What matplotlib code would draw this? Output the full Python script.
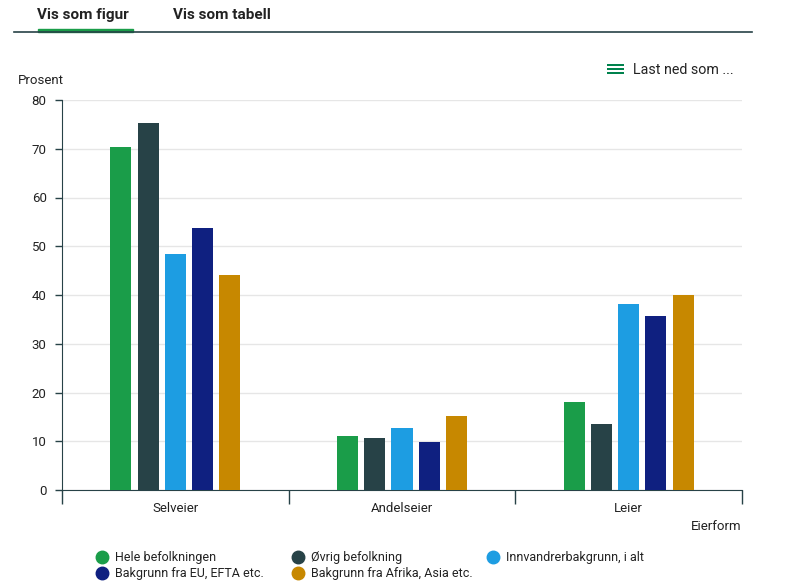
import numpy as np
import matplotlib.pyplot as plt
from matplotlib.patches import Rectangle

plt.rcParams['font.family'] = ['Roboto', 'DejaVu Sans']

# data
kategorier = ['Selveier', 'Andelseier', 'Leier']
serier = ['Hele befolkningen', 'Øvrig befolkning', 'Innvandrerbakgrunn, i alt',
          'Bakgrunn fra EU, EFTA etc.', 'Bakgrunn fra Afrika, Asia etc.']
verdier = [
    [70.4, 11.1, 18.1],
    [75.3, 10.7, 13.5],
    [48.4, 12.7, 38.2],
    [53.7, 9.8, 35.7],
    [44.1, 15.2, 40.0],
]
farger = ['#1a9d49', '#274247', '#1d9de2', '#0f2080', '#c78800']

W, H = 793, 588
fig = plt.figure(figsize=(W / 100, H / 100), dpi=100)
ax = fig.add_axes([62 / W, 1 - 490 / H, 680 / W, 390 / H])

x = np.arange(len(kategorier))
bredde = 0.093
steg = 0.12
for i, (navn, v) in enumerate(zip(serier, verdier)):
    ax.bar(x + (i - 2) * steg, v, width=bredde, color=farger[i], zorder=3)

ax.set_xlim(-0.5, 2.5)
ax.set_ylim(0, 80)
ax.set_yticks(range(0, 81, 10))
ax.grid(axis='y', color='#e6e6e6', linewidth=1, zorder=0)
ax.set_xticks([-0.5, 0.5, 1.5, 2.5])
ax.set_xticklabels([])
ax.set_xticks(x, minor=True)
ax.set_xticklabels(kategorier, minor=True)
ax.tick_params(axis='x', which='major', length=10, width=1, color='#274247')
ax.tick_params(axis='x', which='minor', length=0, pad=9, labelsize=9.5, labelcolor='#222222')
ax.tick_params(axis='y', length=5, width=1, color='#274247', labelsize=9.5, labelcolor='#222222', pad=6)
for s in ['top', 'right']:
    ax.spines[s].set_visible(False)
ax.spines['left'].set_color('#274247')
ax.spines['bottom'].set_color('#274247')

def fx(px):
    return px / W

def fy(py):
    return 1 - py / H

fig.text(fx(18), fy(80), 'Prosent', fontsize=9.5, color='#222222', va='center')
fig.text(fx(742), fy(526), 'Eierform', fontsize=9.5, color='#222222', va='center', ha='right')

# fanene oppe
fig.text(fx(37), fy(15), 'Vis som figur', fontsize=11, fontweight='bold', color='#222222', va='center')
fig.text(fx(173), fy(15), 'Vis som tabell', fontsize=11, fontweight='bold', color='#222222', va='center')
fig.add_artist(Rectangle((fx(38), fy(32)), fx(133) - fx(38), 3 / H, color='#1a9d49', transform=fig.transFigure))
fig.add_artist(plt.Line2D([fx(14), fx(752)], [fy(32), fy(32)], color='#274247', linewidth=1.2, transform=fig.transFigure))

# last ned-ikon
for yy in [65, 69, 73]:
    fig.add_artist(Rectangle((fx(607), fy(yy + 1.4)), 17 / W, 2.8 / H, color='#00824d', transform=fig.transFigure, linewidth=0))
fig.text(fx(633), fy(70), 'Last ned som ...', fontsize=10.3, color='#222222', va='center')

# tegnforklaring
pos = [(102, 557), (298, 557), (493, 557), (102, 573), (298, 573)]
for (px, py), navn, c in zip(pos, serier, farger):
    fig.add_artist(plt.Line2D([fx(px)], [fy(py)], marker='o', markersize=9, color=c, transform=fig.transFigure))
    fig.text(fx(px + 13), fy(py), navn, fontsize=9, color='#222222', va='center')

fig.savefig('out.png', dpi=100)
